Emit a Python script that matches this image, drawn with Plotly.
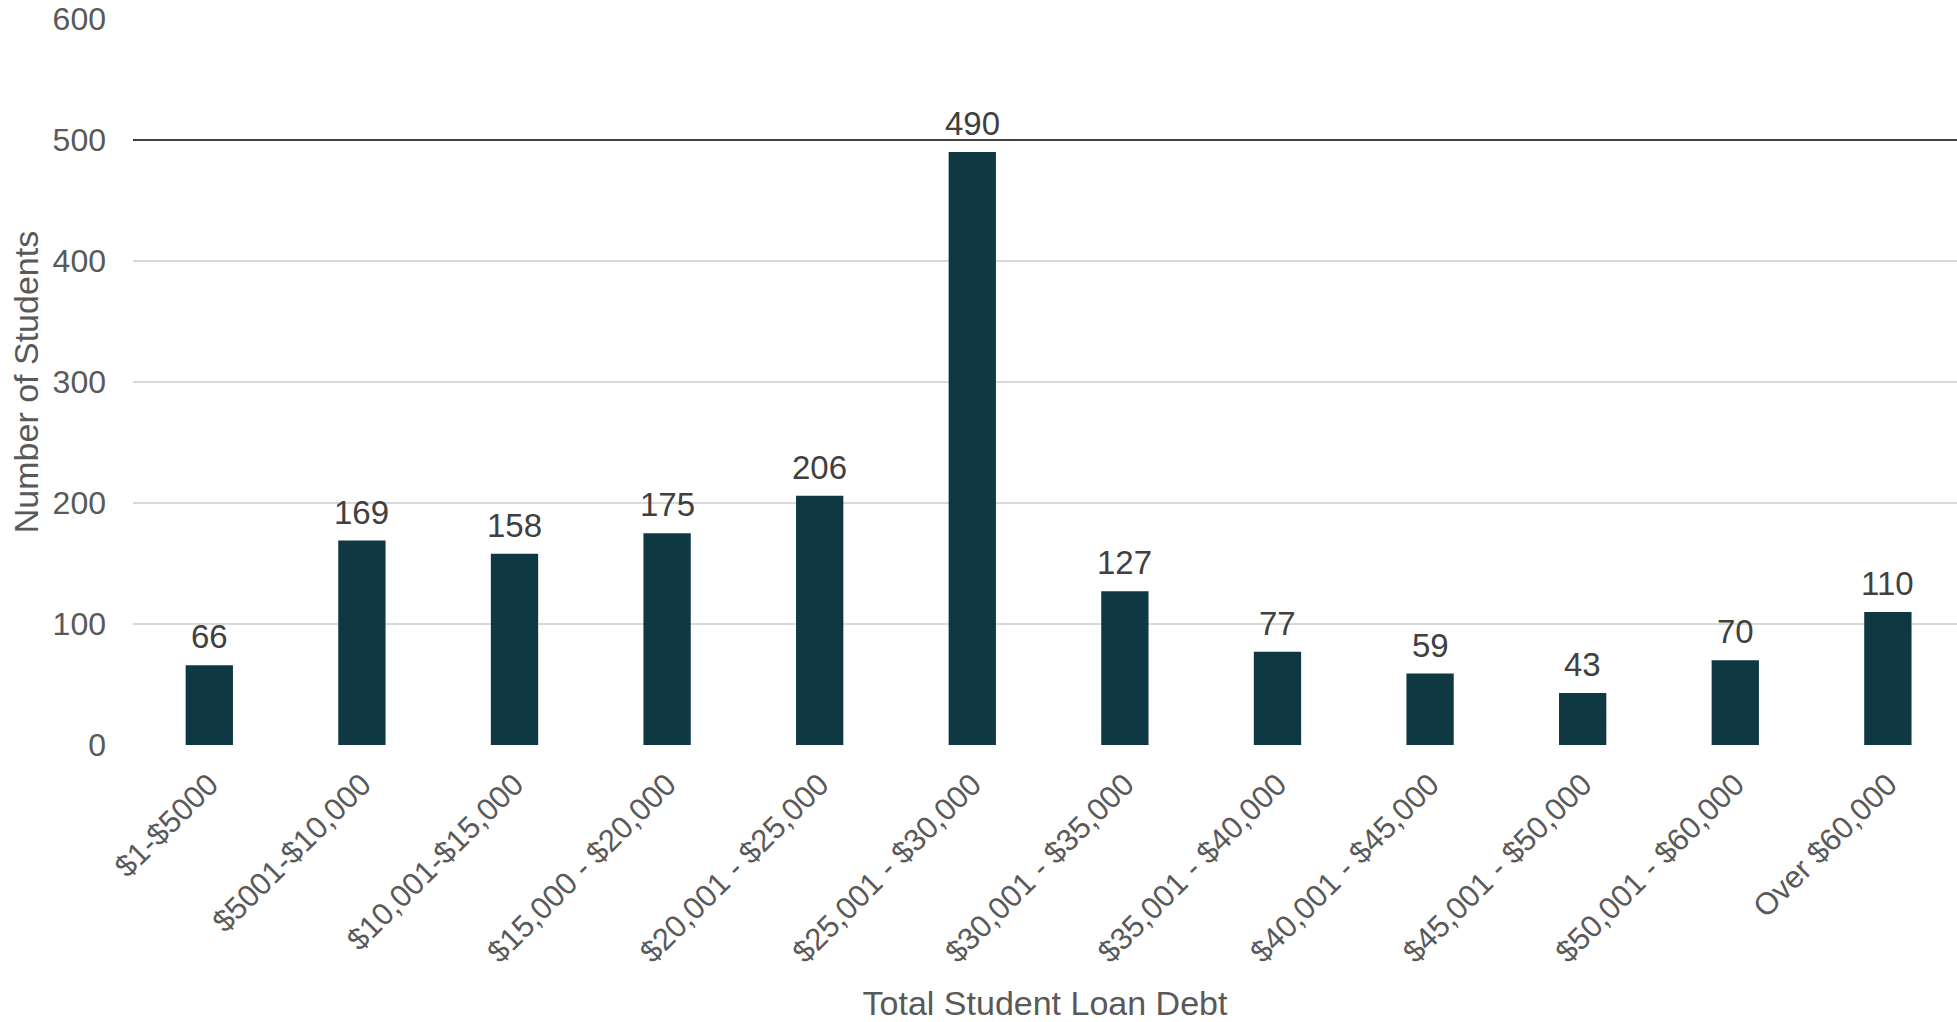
import plotly.graph_objects as go

categories = ["$1-$5000", "$5001-$10,000", "$10,001-$15,000", "$15,000 - $20,000",
              "$20,001 - $25,000", "$25,001 - $30,000", "$30,001 - $35,000",
              "$35,001 - $40,000", "$40,001 - $45,000", "$45,001 - $50,000",
              "$50,001 - $60,000", "Over $60,000"]
students = [66, 169, 158, 175, 206, 490, 127, 77, 59, 43, 70, 110]
y_ticks = [0, 100, 200, 300, 400, 500, 600]
highlight_level = 500

FONT = "Liberation Sans, Arial, sans-serif"

fig = go.Figure()
fig.add_trace(go.Bar(
    x=categories,
    y=students,
    marker=dict(color="#0f3843", line=dict(width=0)),
    width=0.31,
))

for cat, val in zip(categories, students):
    fig.add_annotation(
        x=cat, y=val, text=str(val), showarrow=False,
        xanchor="center", yanchor="bottom", yshift=8,
        font=dict(family=FONT, size=33, color="#404040"),
    )

fig.add_hline(y=highlight_level, line=dict(color="#404040", width=2), layer="above")

fig.update_layout(
    width=1957, height=1022,
    margin=dict(l=133, r=0, t=19, b=277),
    plot_bgcolor="white", paper_bgcolor="white",
    showlegend=False,
    font=dict(family=FONT, color="#595959"),
    xaxis=dict(
        range=[-0.5, 11.453],
        tickangle=-45,
        tickfont=dict(family=FONT, size=31, color="#595959"),
        showgrid=False, showline=False, zeroline=False,
        ticks="", ticklabelstandoff=14,
        title=dict(text="Total Student Loan Debt",
                   font=dict(family=FONT, size=34, color="#595959"),
                   standoff=23),
    ),
    yaxis=dict(
        range=[0, 600],
        tickvals=y_ticks,
        tickfont=dict(family=FONT, size=32, color="#595959"),
        showgrid=True, gridcolor="#d9d9d9", gridwidth=1.5,
        zeroline=False, showline=False, ticks="",
        ticklabelstandoff=26,
        title=dict(text="Number of Students",
                   font=dict(family=FONT, size=34, color="#595959"),
                   standoff=3),
    ),
)

fig.write_html("out.html")
